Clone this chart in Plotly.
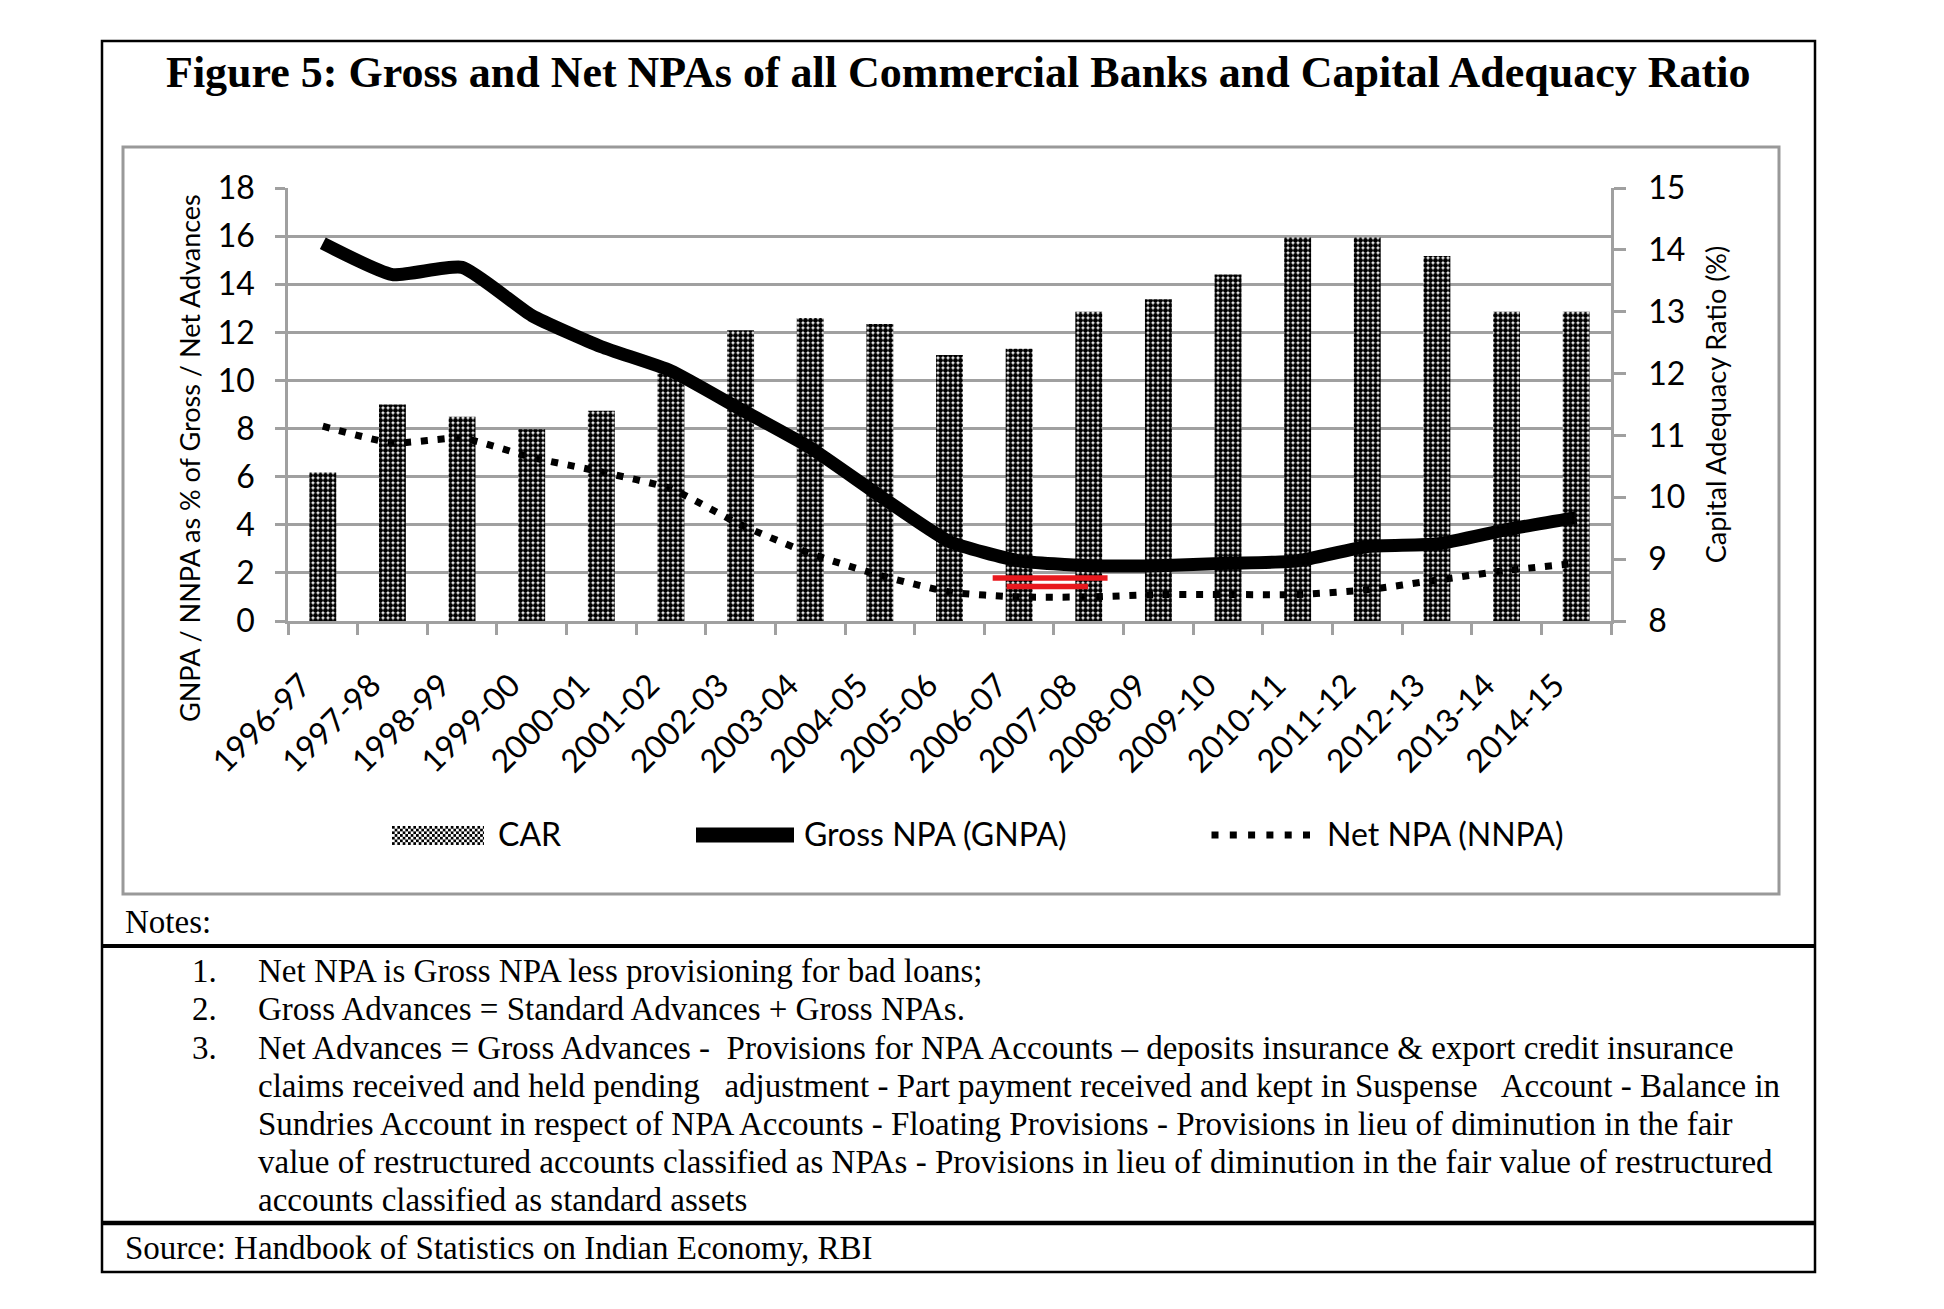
import base64
import plotly.graph_objects as go

# ---------------- data ----------------
years = ["1996-97", "1997-98", "1998-99", "1999-00", "2000-01", "2001-02", "2002-03",
         "2003-04", "2004-05", "2005-06", "2006-07", "2007-08", "2008-09", "2009-10",
         "2010-11", "2011-12", "2012-13", "2013-14", "2014-15"]
car = [10.4, 11.5, 11.3, 11.1, 11.4, 12.0, 12.7, 12.9, 12.8, 12.3, 12.4, 13.0, 13.2, 13.6,
       14.2, 14.2, 13.9, 13.0, 13.0]
gnpa = [15.7, 14.4, 14.7, 12.7, 11.4, 10.4, 8.8, 7.2, 5.2, 3.3, 2.5, 2.3, 2.3, 2.4, 2.5,
        3.1, 3.2, 3.8, 4.3]
nnpa = [8.1, 7.4, 7.6, 6.8, 6.2, 5.5, 4.0, 2.8, 1.9, 1.2, 1.0, 1.0, 1.1, 1.1, 1.1, 1.3,
        1.7, 2.1, 2.4]

title_text = "Figure 5: Gross and Net NPAs of all Commercial Banks and Capital Adequacy Ratio"
left_title = "GNPA / NNPA as % of Gross / Net Advances"
right_title = "Capital Adequacy Ratio (%)"
legend_labels = ["CAR", "Gross NPA (GNPA)", "Net NPA (NNPA)"]
notes_head = "Notes:"
notes = [
    ("1.", "Net NPA is Gross NPA less provisioning for bad loans;"),
    ("2.", "Gross Advances = Standard Advances + Gross NPAs."),
    ("3.", "Net Advances = Gross Advances -\u00a0 Provisions for NPA Accounts \u2013 deposits insurance & export credit insurance"),
    ("", "claims received and held pending \u00a0 adjustment - Part payment received and kept in Suspense \u00a0 Account - Balance in"),
    ("", "Sundries Account in respect of NPA Accounts - Floating Provisions - Provisions in lieu of diminution in the fair"),
    ("", "value of restructured accounts classified as NPAs - Provisions in lieu of diminution in the fair value of restructured"),
    ("", "accounts classified as standard assets"),
]
source_text = "Source: Handbook of Statistics on Indian Economy, RBI"

# ---------------- geometry ----------------
W, H = 1944, 1309
L, R, T, B = 288, 333, 188, 688
PW, PH = W - L - R, H - T - B


def px(x):
    return (x - L) / PW


def py(y):
    return (H - B - y) / PH


SANS = "Lato"
SERIF = "Liberation Serif"
GRID = "#a0a0a0"

fig = go.Figure()

fig.add_trace(go.Bar(
    x=years, y=car, name=legend_labels[0], yaxis="y", width=0.386,
    marker=dict(color="white", line=dict(width=0),
                pattern=dict(shape=".", fgcolor="black", bgcolor="white",
                             size=5, solidity=0.76, fgopacity=1)),
    showlegend=False,
))
fig.add_trace(go.Scatter(
    x=years, y=gnpa, name=legend_labels[1], yaxis="y2", mode="lines",
    line=dict(color="black", width=13, shape="spline", smoothing=0.5),
    showlegend=False,
))
fig.add_trace(go.Scatter(
    x=years, y=nnpa, name=legend_labels[2], yaxis="y2", mode="lines",
    line=dict(color="black", width=7, dash="7px,9.7px", shape="spline", smoothing=0.5),
    showlegend=False,
))

tickfont = dict(family=SANS, size=32, color="black")

fig.update_layout(
    width=W, height=H,
    margin=dict(l=L, r=R, t=T, b=B, autoexpand=False),
    paper_bgcolor="white", plot_bgcolor="white",
    xaxis=dict(
        type="category", showline=True, linecolor=GRID, linewidth=2.5,
        ticks="outside", tickson="boundaries", ticklen=11, tickwidth=2.5, tickcolor=GRID,
        tickangle=-45, tickfont=tickfont, ticklabelstandoff=30, ticklabelshift=-21,
        showgrid=False,
    ),
    yaxis=dict(
        side="right", range=[8, 15], dtick=1, showgrid=False, zeroline=False,
        showline=True, linecolor=GRID, linewidth=2.5,
        ticks="outside", ticklen=12, tickwidth=2.5, tickcolor=GRID,
        tickfont=tickfont, ticklabelstandoff=16,
        title=dict(text=right_title, font=dict(family=SANS, size=27, color="black"), standoff=23),
    ),
    yaxis2=dict(
        overlaying="y", side="left", range=[0, 18], dtick=2,
        showgrid=True, gridcolor=GRID, gridwidth=2.5, zeroline=False,
        showline=True, linecolor=GRID, linewidth=2.5,
        ticks="outside", ticklen=10, tickwidth=2.5, tickcolor=GRID,
        tickfont=tickfont, ticklabelstandoff=14,
    ),
)

shapes = []
# outer frame
shapes.append(dict(type="rect", xref="paper", yref="paper", x0=px(102), x1=px(1815),
                   y0=py(41), y1=py(1272), line=dict(color="black", width=2.5), layer="below"))
# chart frame
shapes.append(dict(type="rect", xref="paper", yref="paper", x0=px(123), x1=px(1779),
                   y0=py(147), y1=py(894), line=dict(color="#999999", width=3), layer="below"))
# separator lines in notes
shapes.append(dict(type="line", xref="paper", yref="paper", x0=px(102), x1=px(1815),
                   y0=py(946), y1=py(946), line=dict(color="black", width=4)))
shapes.append(dict(type="line", xref="paper", yref="paper", x0=px(102), x1=px(1815),
                   y0=py(1223), y1=py(1223), line=dict(color="black", width=4.5)))
# red marks on chart
shapes.append(dict(type="line", xref="x", yref="y2", x0=9.62, x1=11.27, y0=1.79, y1=1.79,
                   line=dict(color="#e8191e", width=5.5)))
shapes.append(dict(type="line", xref="x", yref="y2", x0=9.82, x1=10.99, y0=1.43, y1=1.43,
                   line=dict(color="#e8191e", width=5.5)))
# legend symbols
shapes.append(dict(type="line", xref="paper", yref="paper", x0=px(696), x1=px(794),
                   y0=py(835), y1=py(835), line=dict(color="black", width=15)))
shapes.append(dict(type="line", xref="paper", yref="paper", x0=px(1211.5), x1=px(1311),
                   y0=py(835), y1=py(835), line=dict(color="black", width=7, dash="7px,11.3px")))
fig.update_layout(shapes=shapes)

# checker swatch for CAR legend
svg = ("<svg xmlns='http://www.w3.org/2000/svg' width='93' height='19'>"
       "<defs><pattern id='c' width='5.4' height='5.4' patternUnits='userSpaceOnUse'>"
       "<rect width='2.7' height='2.7' fill='black'/><rect x='2.7' y='2.7' width='2.7' height='2.7' fill='black'/>"
       "</pattern></defs><rect width='93' height='19' fill='white'/>"
       "<rect width='93' height='19' fill='url(#c)'/></svg>")
src = "data:image/svg+xml;base64," + base64.b64encode(svg.encode()).decode()
fig.add_layout_image(dict(source=src, xref="paper", yref="paper", x=px(392), y=py(826),
                          sizex=(484 - 392) / PW, sizey=19 / PH, sizing="stretch",
                          xanchor="left", yanchor="top", layer="above"))

ann = []
ann.append(dict(text="<b>" + title_text + "</b>", x=px(958), y=py(72), xref="paper", yref="paper",
                showarrow=False, xanchor="center", yanchor="middle",
                font=dict(family=SERIF, size=44, color="black")))
# left axis title (placed lower than centre, as in the original)
ann.append(dict(text=left_title, x=px(189), y=py(458), xref="paper", yref="paper",
                showarrow=False, xanchor="center", yanchor="middle", textangle=-90,
                font=dict(family=SANS, size=27, color="black")))
for lab, x in zip(legend_labels, [496, 802, 1325]):
    ann.append(dict(text=lab, x=px(x), y=py(833.5), xref="paper", yref="paper", showarrow=False,
                    xanchor="left", yanchor="middle", font=dict(family=SANS, size=32, color="black")))
nfont = dict(family=SERIF, size=33, color="black")
ann.append(dict(text=notes_head, x=px(123), y=py(922), xref="paper", yref="paper", showarrow=False,
                xanchor="left", yanchor="middle", font=nfont))
ys = [971, 1009, 1048, 1086, 1124, 1162, 1200]
for (num, txt), y in zip(notes, ys):
    if num:
        ann.append(dict(text=num, x=px(190), y=py(y), xref="paper", yref="paper", showarrow=False,
                        xanchor="left", yanchor="middle", font=nfont))
    ann.append(dict(text=txt, x=px(256), y=py(y), xref="paper", yref="paper", showarrow=False,
                    xanchor="left", yanchor="middle", font=nfont))
ann.append(dict(text=source_text, x=px(123), y=py(1248), xref="paper", yref="paper", showarrow=False,
                xanchor="left", yanchor="middle", font=nfont))
fig.update_layout(annotations=ann)

fig.write_html("out.html", config={"displayModeBar": False},
               post_script="document.body.style.margin='0px';")
